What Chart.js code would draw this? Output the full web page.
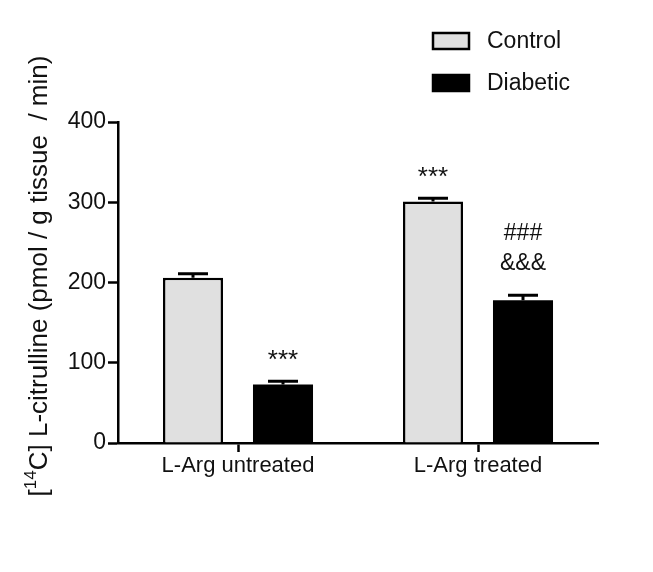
<!DOCTYPE html>
<html>
<head>
<meta charset="utf-8">
<script src="https://cdn.jsdelivr.net/npm/chart.js@4"></script>
<style>
  html, body { margin: 0; padding: 0; background: #fff; }
  #wrap { width: 653px; height: 572px; }
</style>
</head>
<body>
<div id="wrap"><canvas id="chart" width="653" height="572"></canvas></div>
<script>
const categories = ["L-Arg untreated", "L-Arg treated"];
const controlMeans = [206, 301];
const controlErr = [5, 4];
const diabeticMeans = [73, 178];
const diabeticErr = [4, 6];
const controlMarks = [[], ["***"]];
const diabeticMarks = [["***"], ["###", "&&&"]];
const yTicks = [0, 100, 200, 300, 400];

const FONT = "'Liberation Sans', Arial, sans-serif";

const errorBars = {
  id: "errorBars",
  afterDatasetsDraw(chart) {
    const ctx = chart.ctx;
    const y = chart.scales.y;
    chart.data.datasets.forEach((ds, i) => {
      const meta = chart.getDatasetMeta(i);
      meta.data.forEach((bar, j) => {
        const top = y.getPixelForValue(ds.data[j]);
        const errTop = y.getPixelForValue(ds.data[j] + ds.err[j]);
        ctx.save();
        ctx.strokeStyle = "#000";
        ctx.lineWidth = 3;
        ctx.beginPath();
        ctx.moveTo(bar.x, top);
        ctx.lineTo(bar.x, errTop);
        ctx.moveTo(bar.x - 15, errTop);
        ctx.lineTo(bar.x + 15, errTop);
        ctx.stroke();

        // significance marks above the error bar
        ctx.fillStyle = "#111";
        ctx.textAlign = "center";
        ctx.textBaseline = "middle";
        const marks = ds.marks[j];
        marks.forEach((m, k) => {
          const fromTop = marks.length - k;
          if (m === "***") {
            ctx.font = "26px " + FONT;
            ctx.fillText(m, bar.x, errTop - 20);
          } else {
            ctx.font = "23px " + FONT;
            ctx.fillText(m, bar.x, errTop - 2 - fromTop * 30);
          }
        });
        ctx.restore();
      });
    });
  }
};

const customLegend = {
  id: "customLegend",
  afterDraw(chart) {
    const ctx = chart.ctx;
    chart.data.datasets.forEach((ds, i) => {
      const top = 33 + i * 42;
      ctx.save();
      ctx.fillStyle = ds.backgroundColor;
      ctx.fillRect(433, top, 36, 16);
      ctx.strokeStyle = "#000";
      ctx.lineWidth = 2.5;
      ctx.strokeRect(433, top, 36, 16);
      ctx.fillStyle = "#111";
      ctx.font = "23px " + FONT;
      ctx.textBaseline = "middle";
      ctx.textAlign = "left";
      ctx.fillText(ds.label, 487, top + 9);
      ctx.restore();
    });
  }
};

const yTitle = {
  id: "yTitle",
  afterDraw(chart) {
    const ctx = chart.ctx;
    const big = "26px " + FONT, small = "17px " + FONT;
    const p1 = "[", p2 = "14", p3 = "C] L-citrulline (pmol / g tissue  / min)";
    ctx.save();
    ctx.font = big;
    const w1 = ctx.measureText(p1).width, w3 = ctx.measureText(p3).width;
    ctx.font = small;
    const w2 = ctx.measureText(p2).width;
    const total = w1 + w2 + w3;
    ctx.translate(47, 276);
    ctx.rotate(-Math.PI / 2);
    ctx.fillStyle = "#111";
    ctx.textBaseline = "alphabetic";
    ctx.textAlign = "left";
    let x = -total / 2;
    ctx.font = big;
    ctx.fillText(p1, x, 0);
    x += w1;
    ctx.font = small;
    ctx.fillText(p2, x, -11);
    x += w2;
    ctx.font = big;
    ctx.fillText(p3, x, 0);
    ctx.restore();
  }
};

new Chart(document.getElementById("chart"), {
  type: "bar",
  data: {
    labels: categories,
    datasets: [
      {
        label: "Control",
        data: controlMeans,
        err: controlErr,
        marks: controlMarks,
        backgroundColor: "#e0e0e0",
        borderColor: "#000",
        borderWidth: 2.5,
        borderSkipped: "bottom"
      },
      {
        label: "Diabetic",
        data: diabeticMeans,
        err: diabeticErr,
        marks: diabeticMarks,
        backgroundColor: "#000",
        borderColor: "#000",
        borderWidth: 0
      }
    ]
  },
  options: {
    responsive: false,
    animation: false,
    events: [],
    categoryPercentage: 0.75,
    barPercentage: 0.667,
    layout: { padding: { top: 122, right: 55, left: 0, bottom: 0 } },
    plugins: {
      legend: { display: false },
      tooltip: { enabled: false }
    },
    scales: {
      x: {
        afterFit: s => { s.height = 129; },
        grid: { display: true, drawOnChartArea: false, offset: false, tickLength: 9, tickWidth: 2.5, tickColor: "#000" },
        border: { color: "#000", width: 2.5 },
        ticks: { color: "#111", font: { family: FONT, size: 22 }, padding: 1 }
      },
      y: {
        min: 0,
        max: 400,
        afterFit: s => { s.width = 118; },
        afterBuildTicks: s => { s.ticks = yTicks.map(v => ({ value: v })); },
        grid: { display: true, drawOnChartArea: false, tickLength: 10, tickWidth: 2.5, tickColor: "#000" },
        border: { color: "#000", width: 2.5 },
        ticks: { color: "#111", font: { family: FONT, size: 23 }, padding: 2 }
      }
    }
  },
  plugins: [errorBars, customLegend, yTitle]
});
</script>
</body>
</html>
